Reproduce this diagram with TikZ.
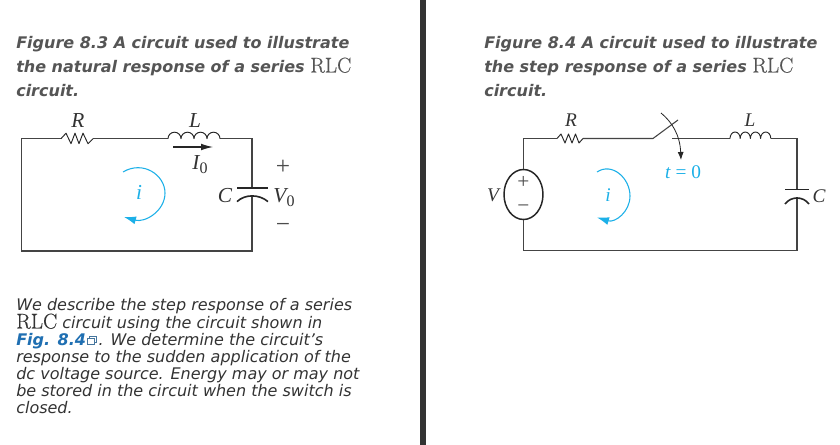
\documentclass[tikz,border=0pt]{standalone}
\usepackage{fontspec}
\newfontfamily\dv{DejaVu Sans}
\newfontfamily\ts{Liberation Serif}
\newfontfamily\lmr[FakeBold=0.35]{Latin Modern Roman}
\usetikzlibrary{arrows.meta,shapes.geometric}
\definecolor{capcol}{HTML}{555555}
\definecolor{bodycol}{HTML}{333333}
\definecolor{linkcol}{HTML}{1F6FB2}
\definecolor{loopcol}{HTML}{1CB0E8}
\definecolor{wirecol}{HTML}{444444}
\tikzset{
  x=0.75pt,y=-0.75pt,
  capline/.style={anchor=base west,inner sep=0pt,text=capcol,font=\dv\bfseries\itshape\fontsize{12}{14}\selectfont},
  bodyline/.style={anchor=base west,inner sep=0pt,text=bodycol,font=\dv\itshape\fontsize{12}{14}\selectfont},
  wire/.style={draw=wirecol,line width=0.8pt,line join=miter},
  comp/.style={draw=black!85,line width=0.7pt,line join=round},
  plate/.style={draw=black!85,line width=1.2pt},
  loopline/.style={draw=loopcol,line width=0.8pt},
  lab/.style={inner sep=0pt,font=\ts\itshape\fontsize{16}{16}\selectfont,text=black!80},
  labs/.style={inner sep=0pt,font=\ts\itshape\fontsize{14.5}{15}\selectfont,text=black!80},
  sign/.style={inner sep=0pt,font=\ts\fontsize{19}{19}\selectfont,text=black!70},
  signs/.style={inner sep=0pt,font=\ts\fontsize{16}{16}\selectfont,text=black!70},
  bluelab/.style={inner sep=0pt,font=\ts\fontsize{14.5}{15}\selectfont,text=loopcol},
}
\newcommand{\rlccap}{{\lmr\mdseries\upshape\fontsize{16}{16}\selectfont RLC}}
\newcommand{\rlcbody}{{\lmr\mdseries\upshape\fontsize{16}{16}\selectfont RLC}}
\newcommand{\subz}{\raisebox{-3pt}{\upshape\fontsize{12}{12}\selectfont 0}}
\begin{document}
\begin{tikzpicture}
\useasboundingbox (0,0) rectangle (840,445);
\fill[white] (0,0) rectangle (840,445);
\fill[bodycol] (420,0) rectangle (426,445);
% captions
\node[capline] (c1) at (16,49) {Figure 8.3 A circuit used to illustrate};
\node[capline] (c2) at (16,72.5) {the natural response of a series \rlccap};
\node[capline] (c3) at (16,96.5) {circuit.};
\node[capline] (d1) at (484,49) {Figure 8.4 A circuit used to illustrate};
\node[capline] (d2) at (484,72.5) {the step response of a series \rlccap};
\node[capline] (d3) at (484,96.5) {circuit.};
% body
\node[bodyline] (b1) at (16,311) {We describe the step response of a series};
\node[bodyline] (b2) at (16,328.5) {\rlcbody\ circuit using the circuit shown in};
\node[bodyline] (b3) at (16,346) {{\bfseries\color{linkcol}Fig. 8.4}\hspace{9.5pt}. We determine the circuit’s};
\node[bodyline] (b4) at (16,363) {response to the sudden application of the};
\node[bodyline] (b5) at (16,380) {dc voltage source. Energy may or may not};
\node[bodyline] (b6) at (16,397) {be stored in the circuit when the switch is};
\node[bodyline] (b7) at (16,414) {closed.};
% link icon
\draw[linkcol!60!gray,line width=0.5pt,fill=white] (89.5,336.5) rectangle (96,342.5);
\draw[linkcol!60!gray,line width=0.6pt,fill=white] (87.5,338.5) rectangle (94,344);
% left circuit
\coordinate (la) at (21.5,138.7);
\coordinate (lb) at (252,138.7);
\coordinate (lc) at (252,251);
\coordinate (ld) at (21.5,251);
\coordinate (lr1) at (61,138.7);
\coordinate (lr2) at (93,138.7);
\coordinate (ll1) at (168,138.7);
\coordinate (ll2) at (220,138.7);
\coordinate (lp1) at (252,188.3);
\coordinate (lp2) at (252,196);
\draw[wire] (lr1) -- (la) -- (ld) -- (lc) -- (lp2);
\draw[wire] (lp1) -- (lb) -- (ll2);
\draw[wire] (ll1) -- (lr2);
\draw[comp] (lr1) -- ++(5,-5.5) -- ++(5,10.5) -- ++(4,-10.5) -- ++(4,10.5) -- ++(4,-10.5) -- ++(5,10.5) -- (lr2);
\draw[comp] (ll1) arc[start angle=180,end angle=360,radius=6.5] arc[start angle=180,end angle=360,radius=6.5] arc[start angle=180,end angle=360,radius=6.5] arc[start angle=180,end angle=360,radius=6.5];
\draw[plate] (237,188.3) -- (268,188.3);
\draw[plate] (237,201.6) .. controls (245,194) and (259,194) .. (268,201.6);
\coordinate (li1) at (173,147);
\coordinate (li2) at (213,147);
\draw[draw=black!85,line width=0.8pt,-{Latex[length=9pt,width=5pt]}] (li1) -- (li2);
\node[lab] (lR) at (78,120.5) {R};
\node[lab] (lL) at (195,120.5) {L};
\node[lab] (lI) at (200,165) {I\subz};
\node[lab] (lC) at (225,196) {C};
\node[lab] (lV) at (284,198) {V\subz};
\node[sign] (lplus) at (283,167) {+};
\node[sign] (lminus) at (283,228) {\char"2212};
\node[lab,text=loopcol] (li) at (139,192) {i};
\coordinate (ls1) at (123,172);
\coordinate (ls2) at (124,217);
\draw[loopline,-{Latex[length=9pt,width=6pt]}] (ls1) .. controls (143,160) and (165,175) .. (165,193) .. controls (165,211) and (145,223) .. (ls2);
% right circuit
\coordinate (ra) at (523.5,138.5);
\coordinate (rb) at (797,138.5);
\coordinate (rc) at (797,250.5);
\coordinate (rd) at (523.5,250.5);
\coordinate (rr1) at (557,138.5);
\coordinate (rr2) at (583,138.5);
\coordinate (rs1) at (653,138.5);
\coordinate (rs2) at (678,120);
\coordinate (rs3) at (672,138.5);
\coordinate (rl1) at (730,138.5);
\coordinate (rl2) at (771,138.5);
\coordinate (rp1) at (797,189.5);
\coordinate (rp2) at (797,197.5);
\node[draw=black!85,line width=1.1pt,ellipse,minimum width=29.25pt,minimum height=37.5pt,inner sep=0pt] (src) at (523.5,194.5) {};
\draw[wire] (src.north) -- (ra) -- (rr1);
\draw[wire] (src.south) -- (rd) -- (rc) -- (rp2);
\draw[wire] (rp1) -- (rb) -- (rl2);
\draw[wire] (rl1) -- (rs3);
\draw[wire] (rr2) -- (rs1) -- (rs2);
\draw[comp] (rr1) -- ++(4,-4.5) -- ++(4,9) -- ++(3.5,-9) -- ++(3.5,9) -- ++(3.5,-9) -- ++(3.5,9) -- (rr2);
\draw[comp] (rl1) arc[start angle=180,end angle=360,x radius=5.1,y radius=6.5] arc[start angle=180,end angle=360,x radius=5.1,y radius=6.5] arc[start angle=180,end angle=360,x radius=5.1,y radius=6.5] arc[start angle=180,end angle=360,x radius=5.1,y radius=6.5];
\draw[plate] (785,189.5) -- (809,189.5);
\draw[plate] (785,204) .. controls (791,196) and (803,196) .. (809,204);
\coordinate (ra1) at (661,113);
\coordinate (ra2) at (681,160);
\draw[draw=black!85,line width=0.6pt,-{Latex[length=6pt,width=4.5pt]}] (ra1) .. controls (672,122) and (680,135) .. (ra2);
\node[labs] (rR) at (571,120) {R};
\node[labs] (rL) at (750,120) {L};
\node[labs] (rC) at (819,196) {C};
\node[labs] (rV) at (493,195) {V};
\node[signs] (rplus) at (523.5,182) {+};
\node[signs] (rminus) at (523.5,209) {\char"2212};
\node[bluelab] (rt) at (683,172) {\textit{t} = 0};
\node[labs,text=loopcol] (ri) at (608,195) {i};
\coordinate (rs4) at (597,172);
\coordinate (rs5) at (597,217.5);
\draw[loopline,-{Latex[length=9pt,width=6pt]}] (rs4) .. controls (612,162) and (630,178) .. (630,196) .. controls (630,212) and (615,223) .. (rs5);
\end{tikzpicture}
\end{document}
